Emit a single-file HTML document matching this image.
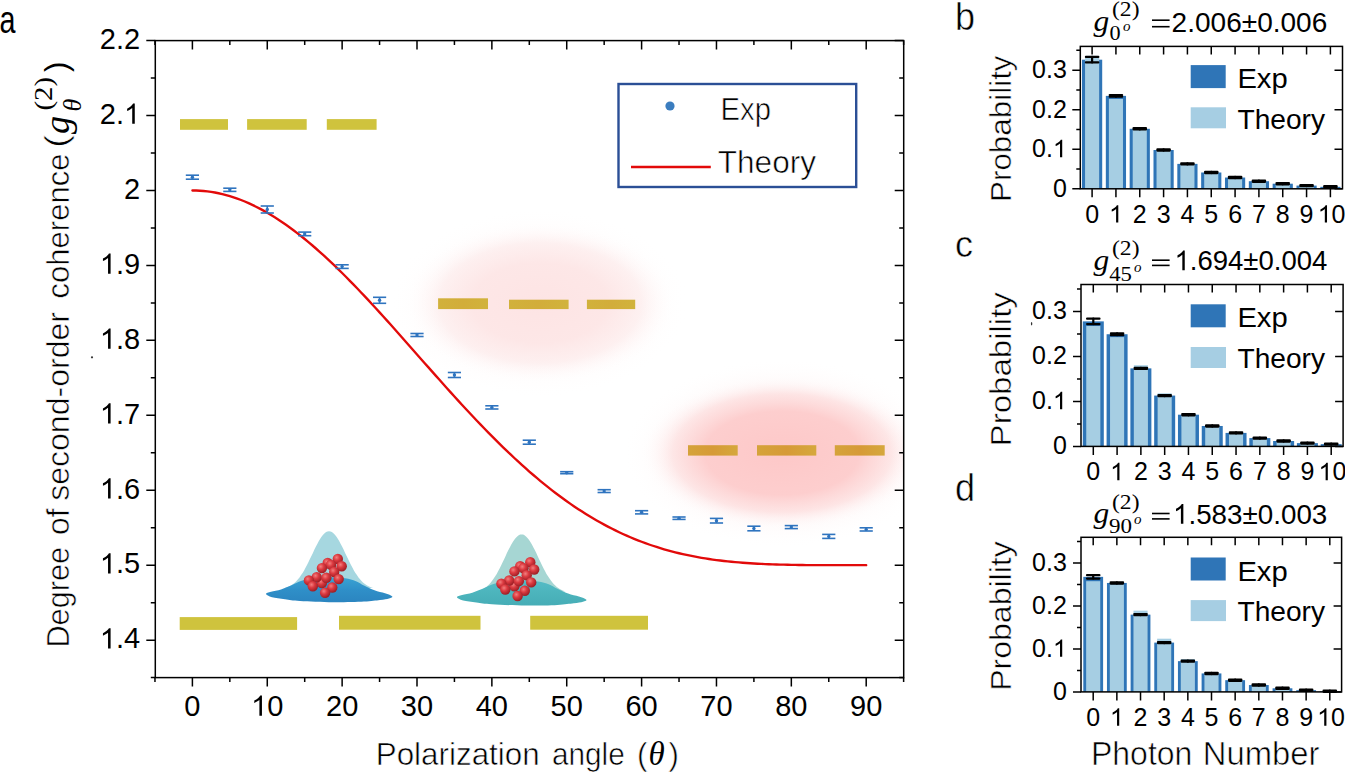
<!DOCTYPE html>
<html><head><meta charset="utf-8"><style>html,body{margin:0;padding:0;background:#fff;}svg{display:block;}</style></head><body>
<svg width="1345" height="772" viewBox="0 0 1345 772">
<defs><style>.thin{stroke:#fff;stroke-width:0.6px;stroke-linejoin:round}.thin2{stroke:#fff;stroke-width:0.5px;stroke-linejoin:round}</style>
<radialGradient id="glow1" cx="0.5" cy="0.5" r="0.5"><stop offset="0" stop-color="#fde4e4" stop-opacity="1"/><stop offset="0.5" stop-color="#fde6e6" stop-opacity="0.95"/><stop offset="0.75" stop-color="#fdeaea" stop-opacity="0.6"/><stop offset="1" stop-color="#ffffff" stop-opacity="0"/></radialGradient>
<radialGradient id="glow2" cx="0.5" cy="0.5" r="0.5"><stop offset="0" stop-color="#fdc8c8" stop-opacity="1"/><stop offset="0.55" stop-color="#fdcccc" stop-opacity="0.95"/><stop offset="0.78" stop-color="#fdd8d8" stop-opacity="0.55"/><stop offset="1" stop-color="#ffffff" stop-opacity="0"/></radialGradient>
<radialGradient id="sph" cx="0.38" cy="0.35" r="0.65"><stop offset="0" stop-color="#f27f7f"/><stop offset="0.45" stop-color="#dc3a40"/><stop offset="1" stop-color="#9e1f26"/></radialGradient>
<linearGradient id="yel2" x1="0" x2="1" y1="0" y2="0"><stop offset="0" stop-color="#d1b13b"/><stop offset="0.5" stop-color="#d2ad3a"/><stop offset="1" stop-color="#d1b33c"/></linearGradient>
<linearGradient id="yel3" x1="0" x2="1" y1="0" y2="0"><stop offset="0" stop-color="#d5a33a"/><stop offset="0.5" stop-color="#d69a37"/><stop offset="1" stop-color="#d5a83d"/></linearGradient>
<linearGradient id="base1" x1="0" x2="0" y1="0" y2="1"><stop offset="0" stop-color="#3aa3d3"/><stop offset="0.5" stop-color="#2f8fc8"/><stop offset="1" stop-color="#2b85c0"/></linearGradient>
<linearGradient id="base2" x1="0" x2="0" y1="0" y2="1"><stop offset="0" stop-color="#55bcc6"/><stop offset="0.5" stop-color="#4cb4bc"/><stop offset="1" stop-color="#46adb6"/></linearGradient>
<radialGradient id="halo" cx="0.5" cy="0.5" r="0.5"><stop offset="0" stop-color="#fdeaea" stop-opacity="1"/><stop offset="0.6" stop-color="#fdeeee" stop-opacity="0.7"/><stop offset="1" stop-color="#ffffff" stop-opacity="0"/></radialGradient>
<clipPath id="plotclip"><rect x="155.3" y="40.6" width="748.40" height="637.00"/></clipPath>
</defs>
<rect x="0" y="0" width="1345" height="772" fill="#ffffff"/>
<g clip-path="url(#plotclip)">
<ellipse cx="539" cy="303" rx="150" ry="95" fill="url(#halo)" opacity="0.6"/>
<ellipse cx="782" cy="453" rx="160" ry="95" fill="url(#halo)"/>
<ellipse cx="540" cy="303" rx="135" ry="80" fill="url(#glow1)"/>
<ellipse cx="782" cy="453" rx="140" ry="76" fill="url(#glow2)"/>
</g>
<rect x="180" y="119.1" width="48.0" height="10.7" fill="#cfc33d"/>
<rect x="247.1" y="119.1" width="59.6" height="10.7" fill="#cfc33d"/>
<rect x="326.8" y="119.1" width="49.8" height="10.7" fill="#cfc33d"/>
<rect x="438.1" y="298.3" width="49.9" height="10.8" fill="url(#yel2)"/>
<rect x="509" y="299.7" width="59.6" height="9.4" fill="url(#yel2)"/>
<rect x="586.9" y="299.7" width="48.3" height="9.4" fill="url(#yel2)"/>
<rect x="688" y="445.2" width="49.7" height="10.4" fill="url(#yel3)"/>
<rect x="757" y="445.2" width="59.3" height="10.4" fill="url(#yel3)"/>
<rect x="834.8" y="445.2" width="49.9" height="10.4" fill="url(#yel3)"/>
<rect x="179.7" y="617.1" width="117.4" height="12.8" fill="#cfc33d"/>
<rect x="339" y="615.8" width="141.5" height="13.9" fill="#cfc33d"/>
<rect x="530.2" y="615.8" width="117.8" height="13.9" fill="#cfc33d"/>
<path d="M285.0,588.1 L286.5,587.6 L287.9,587.0 L289.4,586.3 L290.9,585.5 L292.3,584.6 L293.8,583.5 L295.3,582.2 L296.7,580.7 L298.2,579.0 L299.7,577.2 L301.1,575.1 L302.6,572.9 L304.1,570.5 L305.5,567.8 L307.0,565.1 L308.5,562.1 L309.9,559.1 L311.4,556.0 L312.9,552.9 L314.3,549.8 L315.8,546.8 L317.3,543.9 L318.7,541.2 L320.2,538.7 L321.7,536.5 L323.1,534.7 L324.6,533.2 L326.1,532.1 L327.5,531.4 L329.0,531.2 L330.5,531.4 L331.9,532.1 L333.4,533.2 L334.9,534.7 L336.3,536.5 L337.8,538.7 L339.3,541.2 L340.7,543.9 L342.2,546.8 L343.7,549.8 L345.1,552.9 L346.6,556.0 L348.1,559.1 L349.5,562.1 L351.0,565.1 L352.5,567.8 L353.9,570.5 L355.4,572.9 L356.9,575.1 L358.3,577.2 L359.8,579.0 L361.3,580.7 L362.7,582.2 L364.2,583.5 L365.7,584.6 L367.1,585.5 L368.6,586.3 L370.1,587.0 L371.5,587.6 L373.0,588.1 Z" fill="#a6d7e0"/>
<path d="M266.0,594.0 C265.8,593.1 268.5,592.6 271.0,591.8 C273.5,591.0 277.7,590.4 281.0,589.4 C284.3,588.4 287.6,586.9 291.0,585.5 C294.4,584.1 297.9,582.0 301.6,580.8 C305.3,579.6 308.4,578.8 313.0,578.2 C317.6,577.6 323.7,577.3 329.0,577.3 C334.3,577.3 340.5,577.6 345.0,578.2 C349.5,578.9 352.8,580.0 356.0,581.2 C359.2,582.4 360.9,584.0 364.0,585.5 C367.1,587.0 371.0,588.9 374.5,590.2 C378.0,591.5 382.0,592.3 385.0,593.3 C388.0,594.3 391.6,595.5 392.3,596.4 C393.0,597.2 391.1,597.8 389.0,598.4 C386.9,599.0 384.2,599.5 380.0,600.0 C375.8,600.5 371.8,601.2 364.0,601.6 C356.2,602.0 343.7,602.4 333.0,602.3 C322.3,602.2 308.0,601.5 300.0,601.0 C292.0,600.5 289.7,599.8 285.0,599.2 C280.3,598.6 275.2,598.1 272.0,597.2 C268.8,596.3 266.2,594.9 266.0,594.0 Z" fill="url(#base1)"/>
<circle cx="327.7" cy="563.0" r="5.2" fill="url(#sph)"/>
<circle cx="321.9" cy="583.0" r="5.2" fill="url(#sph)"/>
<circle cx="337.8" cy="559.0" r="5.2" fill="url(#sph)"/>
<circle cx="331.0" cy="564.9" r="5.2" fill="url(#sph)"/>
<circle cx="321.9" cy="568.1" r="5.2" fill="url(#sph)"/>
<circle cx="341.7" cy="566.2" r="5.2" fill="url(#sph)"/>
<circle cx="334.2" cy="572.0" r="5.2" fill="url(#sph)"/>
<circle cx="316.7" cy="577.2" r="5.2" fill="url(#sph)"/>
<circle cx="326.4" cy="577.8" r="5.2" fill="url(#sph)"/>
<circle cx="338.7" cy="579.1" r="5.2" fill="url(#sph)"/>
<circle cx="308.9" cy="580.4" r="5.2" fill="url(#sph)"/>
<circle cx="312.8" cy="586.2" r="5.2" fill="url(#sph)"/>
<circle cx="332.3" cy="587.5" r="5.2" fill="url(#sph)"/>
<circle cx="325.1" cy="592.7" r="5.2" fill="url(#sph)"/>
<path d="M477.6,591.6 L479.1,591.1 L480.5,590.5 L482.0,589.8 L483.5,589.0 L484.9,588.0 L486.4,586.9 L487.9,585.6 L489.3,584.2 L490.8,582.5 L492.3,580.6 L493.7,578.6 L495.2,576.3 L496.7,573.9 L498.1,571.2 L499.6,568.4 L501.1,565.5 L502.5,562.5 L504.0,559.4 L505.5,556.2 L506.9,553.1 L508.4,550.1 L509.9,547.2 L511.3,544.5 L512.8,542.0 L514.3,539.8 L515.7,537.9 L517.2,536.4 L518.7,535.3 L520.1,534.6 L521.6,534.4 L523.1,534.6 L524.5,535.3 L526.0,536.4 L527.5,537.9 L528.9,539.8 L530.4,542.0 L531.9,544.5 L533.3,547.2 L534.8,550.1 L536.3,553.1 L537.7,556.2 L539.2,559.4 L540.7,562.5 L542.1,565.5 L543.6,568.4 L545.1,571.2 L546.5,573.9 L548.0,576.3 L549.5,578.6 L550.9,580.6 L552.4,582.5 L553.9,584.2 L555.3,585.6 L556.8,586.9 L558.3,588.0 L559.7,589.0 L561.2,589.8 L562.7,590.5 L564.1,591.1 L565.6,591.6 Z" fill="#a6d6d3"/>
<path d="M456.9,597.3 C456.8,596.4 459.5,595.9 462.1,595.1 C464.6,594.3 468.9,593.7 472.3,592.7 C475.7,591.6 479.0,590.2 482.6,588.8 C486.1,587.4 489.7,585.3 493.4,584.1 C497.2,582.9 500.4,582.1 505.1,581.5 C509.8,580.9 516.0,580.6 521.5,580.6 C527.0,580.6 533.3,580.9 537.9,581.5 C542.5,582.1 545.9,583.3 549.2,584.5 C552.4,585.7 554.2,587.3 557.4,588.8 C560.5,590.3 564.6,592.2 568.1,593.5 C571.7,594.8 575.9,595.6 578.9,596.6 C581.9,597.6 585.7,598.8 586.4,599.7 C587.1,600.5 585.1,601.1 583.0,601.7 C580.9,602.3 578.0,602.8 573.8,603.3 C569.5,603.8 565.4,604.5 557.4,604.9 C549.3,605.3 536.5,605.7 525.6,605.6 C514.7,605.5 500.0,604.8 491.8,604.3 C483.6,603.8 481.2,603.1 476.4,602.5 C471.6,601.9 466.3,601.4 463.1,600.5 C459.8,599.6 457.1,598.2 456.9,597.3 Z" fill="url(#base2)"/>
<circle cx="520.2" cy="566.3" r="5.2" fill="url(#sph)"/>
<circle cx="514.4" cy="586.3" r="5.2" fill="url(#sph)"/>
<circle cx="530.3" cy="562.3" r="5.2" fill="url(#sph)"/>
<circle cx="523.5" cy="568.2" r="5.2" fill="url(#sph)"/>
<circle cx="514.4" cy="571.4" r="5.2" fill="url(#sph)"/>
<circle cx="534.2" cy="569.5" r="5.2" fill="url(#sph)"/>
<circle cx="526.7" cy="575.3" r="5.2" fill="url(#sph)"/>
<circle cx="509.2" cy="580.5" r="5.2" fill="url(#sph)"/>
<circle cx="518.9" cy="581.1" r="5.2" fill="url(#sph)"/>
<circle cx="531.2" cy="582.4" r="5.2" fill="url(#sph)"/>
<circle cx="501.4" cy="583.7" r="5.2" fill="url(#sph)"/>
<circle cx="505.3" cy="589.5" r="5.2" fill="url(#sph)"/>
<circle cx="524.8" cy="590.8" r="5.2" fill="url(#sph)"/>
<circle cx="517.6" cy="596.0" r="5.2" fill="url(#sph)"/>
<polyline points="192.40,190.48 196.14,190.54 199.89,190.71 203.63,191.00 207.37,191.39 211.12,191.91 214.86,192.53 218.60,193.27 222.35,194.12 226.09,195.08 229.83,196.15 233.58,197.34 237.32,198.63 241.06,200.02 244.81,201.53 248.55,203.14 252.29,204.86 256.04,206.68 259.78,208.60 263.52,210.62 267.27,212.74 271.01,214.96 274.75,217.27 278.50,219.68 282.24,222.18 285.98,224.77 289.73,227.45 293.47,230.21 297.21,233.06 300.96,235.99 304.70,239.00 308.44,242.09 312.19,245.26 315.93,248.50 319.67,251.80 323.42,255.18 327.16,258.63 330.90,262.14 334.65,265.71 338.39,269.33 342.13,273.02 345.88,276.76 349.62,280.55 353.36,284.38 357.11,288.27 360.85,292.19 364.59,296.16 368.34,300.17 372.08,304.21 375.82,308.28 379.57,312.38 383.31,316.51 387.05,320.66 390.80,324.83 394.54,329.02 398.28,333.23 402.03,337.45 405.77,341.68 409.51,345.92 413.26,350.17 417.00,354.42 420.74,358.66 424.49,362.91 428.23,367.15 431.97,371.38 435.72,375.60 439.46,379.81 443.20,384.01 446.95,388.18 450.69,392.34 454.43,396.48 458.18,400.59 461.92,404.67 465.66,408.73 469.41,412.75 473.15,416.75 476.89,420.70 480.64,424.63 484.38,428.51 488.12,432.35 491.87,436.15 495.61,439.91 499.35,443.62 503.10,447.29 506.84,450.90 510.58,454.47 514.33,457.99 518.07,461.45 521.81,464.86 525.56,468.21 529.30,471.51 533.04,474.75 536.79,477.94 540.53,481.06 544.27,484.13 548.02,487.13 551.76,490.07 555.50,492.95 559.25,495.77 562.99,498.53 566.73,501.22 570.48,503.85 574.22,506.42 577.96,508.92 581.71,511.35 585.45,513.73 589.19,516.04 592.94,518.28 596.68,520.46 600.42,522.58 604.17,524.63 607.91,526.62 611.65,528.55 615.40,530.41 619.14,532.22 622.88,533.96 626.63,535.64 630.37,537.26 634.11,538.82 637.86,540.32 641.60,541.77 645.34,543.16 649.09,544.49 652.83,545.76 656.57,546.99 660.32,548.15 664.06,549.27 667.80,550.34 671.55,551.35 675.29,552.32 679.03,553.24 682.78,554.11 686.52,554.93 690.26,555.72 694.01,556.45 697.75,557.15 701.49,557.81 705.24,558.43 708.98,559.01 712.72,559.55 716.47,560.06 720.21,560.54 723.95,560.98 727.70,561.39 731.44,561.77 735.18,562.12 738.93,562.45 742.67,562.75 746.41,563.03 750.16,563.28 753.90,563.51 757.64,563.72 761.39,563.90 765.13,564.08 768.87,564.23 772.62,564.37 776.36,564.49 780.10,564.60 783.85,564.69 787.59,564.77 791.33,564.85 795.08,564.91 798.82,564.96 802.56,565.01 806.31,565.05 810.05,565.08 813.79,565.11 817.54,565.13 821.28,565.14 825.02,565.16 828.77,565.17 832.51,565.17 836.25,565.18 840.00,565.18 843.74,565.19 847.48,565.19 851.23,565.19 854.97,565.19 858.71,565.19 862.46,565.19 866.20,565.19" fill="none" stroke="#e20a0a" stroke-width="2.35" stroke-linecap="round"/>
<g stroke="#2f74bf" stroke-width="1.6" fill="#2f74bf"><line x1="185.80" y1="175.20" x2="199.00" y2="175.20"/><line x1="185.80" y1="179.20" x2="199.00" y2="179.20"/><line x1="192.40" y1="175.20" x2="192.40" y2="179.20"/><circle cx="192.40" cy="177.20" r="1.7" stroke="none"/></g>
<g stroke="#2f74bf" stroke-width="1.6" fill="#2f74bf"><line x1="223.23" y1="188.20" x2="236.43" y2="188.20"/><line x1="223.23" y1="191.40" x2="236.43" y2="191.40"/><line x1="229.83" y1="188.20" x2="229.83" y2="191.40"/><circle cx="229.83" cy="189.80" r="1.7" stroke="none"/></g>
<g stroke="#2f74bf" stroke-width="1.6" fill="#2f74bf"><line x1="260.67" y1="206.00" x2="273.87" y2="206.00"/><line x1="260.67" y1="213.00" x2="273.87" y2="213.00"/><line x1="267.27" y1="206.00" x2="267.27" y2="213.00"/><circle cx="267.27" cy="209.50" r="1.7" stroke="none"/></g>
<g stroke="#2f74bf" stroke-width="1.6" fill="#2f74bf"><line x1="298.10" y1="232.10" x2="311.30" y2="232.10"/><line x1="298.10" y1="235.70" x2="311.30" y2="235.70"/><line x1="304.70" y1="232.10" x2="304.70" y2="235.70"/><circle cx="304.70" cy="233.90" r="1.7" stroke="none"/></g>
<g stroke="#2f74bf" stroke-width="1.6" fill="#2f74bf"><line x1="335.53" y1="264.80" x2="348.73" y2="264.80"/><line x1="335.53" y1="268.40" x2="348.73" y2="268.40"/><line x1="342.13" y1="264.80" x2="342.13" y2="268.40"/><circle cx="342.13" cy="266.60" r="1.7" stroke="none"/></g>
<g stroke="#2f74bf" stroke-width="1.6" fill="#2f74bf"><line x1="372.97" y1="297.30" x2="386.17" y2="297.30"/><line x1="372.97" y1="303.30" x2="386.17" y2="303.30"/><line x1="379.57" y1="297.30" x2="379.57" y2="303.30"/><circle cx="379.57" cy="300.30" r="1.7" stroke="none"/></g>
<g stroke="#2f74bf" stroke-width="1.6" fill="#2f74bf"><line x1="410.40" y1="333.50" x2="423.60" y2="333.50"/><line x1="410.40" y1="336.50" x2="423.60" y2="336.50"/><line x1="417.00" y1="333.50" x2="417.00" y2="336.50"/><circle cx="417.00" cy="335.00" r="1.7" stroke="none"/></g>
<g stroke="#2f74bf" stroke-width="1.6" fill="#2f74bf"><line x1="447.83" y1="372.50" x2="461.03" y2="372.50"/><line x1="447.83" y1="377.50" x2="461.03" y2="377.50"/><line x1="454.43" y1="372.50" x2="454.43" y2="377.50"/><circle cx="454.43" cy="375.00" r="1.7" stroke="none"/></g>
<g stroke="#2f74bf" stroke-width="1.6" fill="#2f74bf"><line x1="485.27" y1="405.80" x2="498.47" y2="405.80"/><line x1="485.27" y1="409.00" x2="498.47" y2="409.00"/><line x1="491.87" y1="405.80" x2="491.87" y2="409.00"/><circle cx="491.87" cy="407.40" r="1.7" stroke="none"/></g>
<g stroke="#2f74bf" stroke-width="1.6" fill="#2f74bf"><line x1="522.70" y1="440.20" x2="535.90" y2="440.20"/><line x1="522.70" y1="444.20" x2="535.90" y2="444.20"/><line x1="529.30" y1="440.20" x2="529.30" y2="444.20"/><circle cx="529.30" cy="442.20" r="1.7" stroke="none"/></g>
<g stroke="#2f74bf" stroke-width="1.6" fill="#2f74bf"><line x1="560.13" y1="471.70" x2="573.33" y2="471.70"/><line x1="560.13" y1="473.70" x2="573.33" y2="473.70"/><line x1="566.73" y1="471.70" x2="566.73" y2="473.70"/><circle cx="566.73" cy="472.70" r="1.7" stroke="none"/></g>
<g stroke="#2f74bf" stroke-width="1.6" fill="#2f74bf"><line x1="597.57" y1="489.70" x2="610.77" y2="489.70"/><line x1="597.57" y1="492.50" x2="610.77" y2="492.50"/><line x1="604.17" y1="489.70" x2="604.17" y2="492.50"/><circle cx="604.17" cy="491.10" r="1.7" stroke="none"/></g>
<g stroke="#2f74bf" stroke-width="1.6" fill="#2f74bf"><line x1="635.00" y1="510.70" x2="648.20" y2="510.70"/><line x1="635.00" y1="513.90" x2="648.20" y2="513.90"/><line x1="641.60" y1="510.70" x2="641.60" y2="513.90"/><circle cx="641.60" cy="512.30" r="1.7" stroke="none"/></g>
<g stroke="#2f74bf" stroke-width="1.6" fill="#2f74bf"><line x1="672.43" y1="517.00" x2="685.63" y2="517.00"/><line x1="672.43" y1="519.40" x2="685.63" y2="519.40"/><line x1="679.03" y1="517.00" x2="679.03" y2="519.40"/><circle cx="679.03" cy="518.20" r="1.7" stroke="none"/></g>
<g stroke="#2f74bf" stroke-width="1.6" fill="#2f74bf"><line x1="709.87" y1="518.40" x2="723.07" y2="518.40"/><line x1="709.87" y1="523.00" x2="723.07" y2="523.00"/><line x1="716.47" y1="518.40" x2="716.47" y2="523.00"/><circle cx="716.47" cy="520.70" r="1.7" stroke="none"/></g>
<g stroke="#2f74bf" stroke-width="1.6" fill="#2f74bf"><line x1="747.30" y1="526.20" x2="760.50" y2="526.20"/><line x1="747.30" y1="530.80" x2="760.50" y2="530.80"/><line x1="753.90" y1="526.20" x2="753.90" y2="530.80"/><circle cx="753.90" cy="528.50" r="1.7" stroke="none"/></g>
<g stroke="#2f74bf" stroke-width="1.6" fill="#2f74bf"><line x1="784.73" y1="525.60" x2="797.93" y2="525.60"/><line x1="784.73" y1="528.60" x2="797.93" y2="528.60"/><line x1="791.33" y1="525.60" x2="791.33" y2="528.60"/><circle cx="791.33" cy="527.10" r="1.7" stroke="none"/></g>
<g stroke="#2f74bf" stroke-width="1.6" fill="#2f74bf"><line x1="822.17" y1="534.40" x2="835.37" y2="534.40"/><line x1="822.17" y1="538.40" x2="835.37" y2="538.40"/><line x1="828.77" y1="534.40" x2="828.77" y2="538.40"/><circle cx="828.77" cy="536.40" r="1.7" stroke="none"/></g>
<g stroke="#2f74bf" stroke-width="1.6" fill="#2f74bf"><line x1="859.60" y1="527.80" x2="872.80" y2="527.80"/><line x1="859.60" y1="531.00" x2="872.80" y2="531.00"/><line x1="866.20" y1="527.80" x2="866.20" y2="531.00"/><circle cx="866.20" cy="529.40" r="1.7" stroke="none"/></g>
<rect x="155.3" y="40.6" width="748.40" height="637.00" stroke="#000" stroke-width="1.5" fill="none"/>
<path d="M146.30,40.60H155.30M894.70,40.60H903.70M150.80,78.07H155.30M899.20,78.07H903.70M146.30,115.54H155.30M894.70,115.54H903.70M150.80,153.01H155.30M899.20,153.01H903.70M146.30,190.48H155.30M894.70,190.48H903.70M150.80,227.95H155.30M899.20,227.95H903.70M146.30,265.42H155.30M894.70,265.42H903.70M150.80,302.89H155.30M899.20,302.89H903.70M146.30,340.36H155.30M894.70,340.36H903.70M150.80,377.84H155.30M899.20,377.84H903.70M146.30,415.31H155.30M894.70,415.31H903.70M150.80,452.78H155.30M899.20,452.78H903.70M146.30,490.25H155.30M894.70,490.25H903.70M150.80,527.72H155.30M899.20,527.72H903.70M146.30,565.19H155.30M894.70,565.19H903.70M150.80,602.66H155.30M899.20,602.66H903.70M146.30,640.13H155.30M894.70,640.13H903.70M150.80,677.60H155.30M899.20,677.60H903.70M154.97,677.60V682.10M154.97,40.60V45.10M192.40,677.60V686.60M192.40,40.60V49.60M229.83,677.60V682.10M229.83,40.60V45.10M267.27,677.60V686.60M267.27,40.60V49.60M304.70,677.60V682.10M304.70,40.60V45.10M342.13,677.60V686.60M342.13,40.60V49.60M379.57,677.60V682.10M379.57,40.60V45.10M417.00,677.60V686.60M417.00,40.60V49.60M454.43,677.60V682.10M454.43,40.60V45.10M491.87,677.60V686.60M491.87,40.60V49.60M529.30,677.60V682.10M529.30,40.60V45.10M566.73,677.60V686.60M566.73,40.60V49.60M604.17,677.60V682.10M604.17,40.60V45.10M641.60,677.60V686.60M641.60,40.60V49.60M679.03,677.60V682.10M679.03,40.60V45.10M716.47,677.60V686.60M716.47,40.60V49.60M753.90,677.60V682.10M753.90,40.60V45.10M791.33,677.60V686.60M791.33,40.60V49.60M828.77,677.60V682.10M828.77,40.60V45.10M866.20,677.60V686.60M866.20,40.60V49.60M903.63,677.60V682.10M903.63,40.60V45.10" stroke="#000" stroke-width="1.5" fill="none"/>
<text x="99.79" y="48.90" font-size="29" text-anchor="start" font-family='"Liberation Sans", sans-serif' >2.2</text>
<text x="99.79" y="123.84" font-size="29" text-anchor="start" font-family='"Liberation Sans", sans-serif' >2. </text>
<path d="M763 0H583V1147Q518 1085 412.5 1023Q307 961 223 930V1104Q374 1175 487 1276Q600 1377 647 1472H763Z" transform="translate(123.97,123.84) scale(0.01416,-0.01376)" fill="#000"/>
<text x="123.97" y="198.78" font-size="29" text-anchor="start" font-family='"Liberation Sans", sans-serif' >2</text>
<text x="99.79" y="273.72" font-size="29" text-anchor="start" font-family='"Liberation Sans", sans-serif' > .9</text>
<path d="M763 0H583V1147Q518 1085 412.5 1023Q307 961 223 930V1104Q374 1175 487 1276Q600 1377 647 1472H763Z" transform="translate(99.79,273.72) scale(0.01416,-0.01376)" fill="#000"/>
<text x="99.79" y="348.66" font-size="29" text-anchor="start" font-family='"Liberation Sans", sans-serif' > .8</text>
<path d="M763 0H583V1147Q518 1085 412.5 1023Q307 961 223 930V1104Q374 1175 487 1276Q600 1377 647 1472H763Z" transform="translate(99.79,348.66) scale(0.01416,-0.01376)" fill="#000"/>
<text x="99.79" y="423.61" font-size="29" text-anchor="start" font-family='"Liberation Sans", sans-serif' > .7</text>
<path d="M763 0H583V1147Q518 1085 412.5 1023Q307 961 223 930V1104Q374 1175 487 1276Q600 1377 647 1472H763Z" transform="translate(99.79,423.61) scale(0.01416,-0.01376)" fill="#000"/>
<text x="99.79" y="498.55" font-size="29" text-anchor="start" font-family='"Liberation Sans", sans-serif' > .6</text>
<path d="M763 0H583V1147Q518 1085 412.5 1023Q307 961 223 930V1104Q374 1175 487 1276Q600 1377 647 1472H763Z" transform="translate(99.79,498.55) scale(0.01416,-0.01376)" fill="#000"/>
<text x="99.79" y="573.49" font-size="29" text-anchor="start" font-family='"Liberation Sans", sans-serif' > .5</text>
<path d="M763 0H583V1147Q518 1085 412.5 1023Q307 961 223 930V1104Q374 1175 487 1276Q600 1377 647 1472H763Z" transform="translate(99.79,573.49) scale(0.01416,-0.01376)" fill="#000"/>
<text x="99.79" y="648.43" font-size="29" text-anchor="start" font-family='"Liberation Sans", sans-serif' > .4</text>
<path d="M763 0H583V1147Q518 1085 412.5 1023Q307 961 223 930V1104Q374 1175 487 1276Q600 1377 647 1472H763Z" transform="translate(99.79,648.43) scale(0.01416,-0.01376)" fill="#000"/>
<text x="184.34" y="715.70" font-size="29" text-anchor="start" font-family='"Liberation Sans", sans-serif' >0</text>
<text x="251.14" y="715.70" font-size="29" text-anchor="start" font-family='"Liberation Sans", sans-serif' > 0</text>
<path d="M763 0H583V1147Q518 1085 412.5 1023Q307 961 223 930V1104Q374 1175 487 1276Q600 1377 647 1472H763Z" transform="translate(251.14,715.70) scale(0.01416,-0.01376)" fill="#000"/>
<text x="326.00" y="715.70" font-size="29" text-anchor="start" font-family='"Liberation Sans", sans-serif' >20</text>
<text x="400.87" y="715.70" font-size="29" text-anchor="start" font-family='"Liberation Sans", sans-serif' >30</text>
<text x="475.74" y="715.70" font-size="29" text-anchor="start" font-family='"Liberation Sans", sans-serif' >40</text>
<text x="550.60" y="715.70" font-size="29" text-anchor="start" font-family='"Liberation Sans", sans-serif' >50</text>
<text x="625.47" y="715.70" font-size="29" text-anchor="start" font-family='"Liberation Sans", sans-serif' >60</text>
<text x="700.34" y="715.70" font-size="29" text-anchor="start" font-family='"Liberation Sans", sans-serif' >70</text>
<text x="775.20" y="715.70" font-size="29" text-anchor="start" font-family='"Liberation Sans", sans-serif' >80</text>
<text x="850.07" y="715.70" font-size="29" text-anchor="start" font-family='"Liberation Sans", sans-serif' >90</text>
<g transform="rotate(-90)">
<text class="thin" x="-647.62" y="68.50" font-size="31" font-family='"Liberation Sans", sans-serif' textLength="100.68" lengthAdjust="spacingAndGlyphs" >Degree</text>
<text class="thin" x="-535.35" y="68.50" font-size="31" font-family='"Liberation Sans", sans-serif' textLength="26.91" lengthAdjust="spacingAndGlyphs" >of</text>
<text class="thin" x="-500.89" y="68.50" font-size="31" font-family='"Liberation Sans", sans-serif' textLength="188.82" lengthAdjust="spacingAndGlyphs" >second-order</text>
<text class="thin" x="-298.42" y="68.50" font-size="31" font-family='"Liberation Sans", sans-serif' textLength="144.79" lengthAdjust="spacingAndGlyphs" >coherence</text>
<text class="thin" x="-148.03" y="66.80" font-size="31" font-family='"Liberation Sans", sans-serif' textLength="13.06" lengthAdjust="spacingAndGlyphs" >(</text>
</g>
<g transform="rotate(-90)"><text x="-134" y="68.5" font-size="36" font-family='"Liberation Serif", serif' font-style="italic">g</text><text x="-111.5" y="80.8" font-size="26" font-family='"Liberation Serif", serif' font-style="italic">θ</text><text x="-110.5" y="51.5" font-size="26" font-family='"Liberation Serif", serif' textLength="33.5" lengthAdjust="spacingAndGlyphs">(2)</text><text x="-72" y="66.8" font-size="31" font-family='"Liberation Sans", sans-serif'>)</text></g>
<text class="thin" x="375.73" y="764.70" font-size="31.5" font-family='"Liberation Sans", sans-serif' textLength="164.01" lengthAdjust="spacingAndGlyphs" >Polarization</text>
<text class="thin" x="551.94" y="764.70" font-size="31.5" font-family='"Liberation Sans", sans-serif' textLength="72.79" lengthAdjust="spacingAndGlyphs" >angle</text>
<text class="thin" x="636.96" y="764.70" font-size="31.5" font-family='"Liberation Sans", sans-serif' textLength="10.42" lengthAdjust="spacingAndGlyphs" >(</text>
<text class="thin" x="668.42" y="764.70" font-size="31.5" font-family='"Liberation Sans", sans-serif' textLength="10.42" lengthAdjust="spacingAndGlyphs" >)</text>
<text x="648.5" y="764.7" font-size="33" font-family='"Liberation Serif", serif' font-style="italic">θ</text>
<text x="-0.50" y="33.00" font-size="38" text-anchor="start" font-family='"Liberation Sans", sans-serif' textLength="16.00" lengthAdjust="spacingAndGlyphs" >a</text>
<rect x="618.5" y="84" width="237.7" height="103" fill="#fff" stroke="#2b4f96" stroke-width="2.4"/>
<circle cx="670" cy="106" r="4.6" fill="#3b7dbf"/>
<line x1="631" y1="167" x2="710.8" y2="167" stroke="#e20a0a" stroke-width="2.7"/>
<text class="thin" x="720.60" y="119.80" font-size="31" font-family='"Liberation Sans", sans-serif' textLength="50.32" lengthAdjust="spacingAndGlyphs" >Exp</text>
<text class="thin" x="717.79" y="173.40" font-size="31.5" font-family='"Liberation Sans", sans-serif' textLength="98.17" lengthAdjust="spacingAndGlyphs" >Theory</text>
<rect x="1082.00" y="59.69" width="20.2" height="129.11" fill="#2f75b7"/>
<rect x="1085.05" y="55.89" width="14.1" height="132.91" fill="#a6cee3"/>
<rect x="1105.83" y="95.88" width="20.2" height="92.92" fill="#2f75b7"/>
<rect x="1108.88" y="99.01" width="14.1" height="89.79" fill="#a6cee3"/>
<rect x="1129.66" y="128.79" width="20.2" height="60.01" fill="#2f75b7"/>
<rect x="1132.71" y="129.07" width="14.1" height="59.73" fill="#a6cee3"/>
<rect x="1153.49" y="150.00" width="20.2" height="38.80" fill="#2f75b7"/>
<rect x="1156.54" y="150.04" width="14.1" height="38.76" fill="#a6cee3"/>
<rect x="1177.32" y="163.88" width="20.2" height="24.92" fill="#2f75b7"/>
<rect x="1180.37" y="163.88" width="14.1" height="24.92" fill="#a6cee3"/>
<rect x="1201.15" y="172.50" width="20.2" height="16.30" fill="#2f75b7"/>
<rect x="1204.20" y="172.58" width="14.1" height="16.22" fill="#a6cee3"/>
<rect x="1224.98" y="177.53" width="20.2" height="11.27" fill="#2f75b7"/>
<rect x="1228.03" y="177.72" width="14.1" height="11.08" fill="#a6cee3"/>
<rect x="1248.81" y="181.21" width="20.2" height="7.59" fill="#2f75b7"/>
<rect x="1251.86" y="181.28" width="14.1" height="7.52" fill="#a6cee3"/>
<rect x="1272.64" y="183.70" width="20.2" height="5.10" fill="#2f75b7"/>
<rect x="1275.69" y="183.86" width="14.1" height="4.94" fill="#a6cee3"/>
<rect x="1296.47" y="185.60" width="20.2" height="3.20" fill="#2f75b7"/>
<rect x="1299.52" y="185.64" width="14.1" height="3.16" fill="#a6cee3"/>
<rect x="1320.30" y="186.82" width="20.2" height="1.98" fill="#2f75b7"/>
<rect x="1323.35" y="186.82" width="14.1" height="1.98" fill="#a6cee3"/>
<g stroke="#000" stroke-width="2.2" stroke-linecap="round"><line x1="1085.90" y1="56.92" x2="1098.30" y2="56.92"/><line x1="1085.90" y1="62.46" x2="1098.30" y2="62.46"/><line x1="1092.10" y1="56.92" x2="1092.10" y2="62.46"/></g>
<g stroke="#000" stroke-width="2.2" stroke-linecap="round"><line x1="1109.73" y1="95.09" x2="1122.13" y2="95.09"/><line x1="1109.73" y1="96.68" x2="1122.13" y2="96.68"/><line x1="1115.93" y1="95.09" x2="1115.93" y2="96.68"/></g>
<g stroke="#000" stroke-width="2.2" stroke-linecap="round"><line x1="1133.56" y1="128.19" x2="1145.96" y2="128.19"/><line x1="1133.56" y1="129.39" x2="1145.96" y2="129.39"/><line x1="1139.76" y1="128.19" x2="1139.76" y2="129.39"/></g>
<g stroke="#000" stroke-width="2.2" stroke-linecap="round"><line x1="1157.39" y1="149.40" x2="1169.79" y2="149.40"/><line x1="1157.39" y1="150.60" x2="1169.79" y2="150.60"/><line x1="1163.59" y1="149.40" x2="1163.59" y2="150.60"/></g>
<g stroke="#000" stroke-width="2.2" stroke-linecap="round"><line x1="1181.22" y1="163.28" x2="1193.62" y2="163.28"/><line x1="1181.22" y1="164.48" x2="1193.62" y2="164.48"/><line x1="1187.42" y1="163.28" x2="1187.42" y2="164.48"/></g>
<g stroke="#000" stroke-width="2.2" stroke-linecap="round"><line x1="1205.05" y1="171.90" x2="1217.45" y2="171.90"/><line x1="1205.05" y1="173.10" x2="1217.45" y2="173.10"/><line x1="1211.25" y1="171.90" x2="1211.25" y2="173.10"/></g>
<g stroke="#000" stroke-width="2.2" stroke-linecap="round"><line x1="1228.88" y1="176.93" x2="1241.28" y2="176.93"/><line x1="1228.88" y1="178.13" x2="1241.28" y2="178.13"/><line x1="1235.08" y1="176.93" x2="1235.08" y2="178.13"/></g>
<g stroke="#000" stroke-width="2.2" stroke-linecap="round"><line x1="1252.71" y1="180.61" x2="1265.11" y2="180.61"/><line x1="1252.71" y1="181.81" x2="1265.11" y2="181.81"/><line x1="1258.91" y1="180.61" x2="1258.91" y2="181.81"/></g>
<g stroke="#000" stroke-width="2.2" stroke-linecap="round"><line x1="1276.54" y1="183.10" x2="1288.94" y2="183.10"/><line x1="1276.54" y1="184.30" x2="1288.94" y2="184.30"/><line x1="1282.74" y1="183.10" x2="1282.74" y2="184.30"/></g>
<g stroke="#000" stroke-width="2.2" stroke-linecap="round"><line x1="1300.37" y1="185.00" x2="1312.77" y2="185.00"/><line x1="1300.37" y1="186.20" x2="1312.77" y2="186.20"/><line x1="1306.57" y1="185.00" x2="1306.57" y2="186.20"/></g>
<g stroke="#000" stroke-width="2.2" stroke-linecap="round"><line x1="1324.20" y1="186.22" x2="1336.60" y2="186.22"/><line x1="1324.20" y1="187.42" x2="1336.60" y2="187.42"/><line x1="1330.40" y1="186.22" x2="1330.40" y2="187.42"/></g>
<rect x="1080.3" y="46.4" width="262.20" height="142.40" stroke="#000" stroke-width="1.5" fill="none"/>
<path d="M1072.30,188.80H1080.30M1334.50,188.80H1342.50M1076.30,169.02H1080.30M1072.30,149.24H1080.30M1334.50,149.24H1342.50M1076.30,129.47H1080.30M1072.30,109.69H1080.30M1334.50,109.69H1342.50M1076.30,89.91H1080.30M1072.30,70.13H1080.30M1334.50,70.13H1342.50M1076.30,50.36H1080.30M1092.10,188.80V197.30M1092.10,46.40V54.40M1115.93,188.80V197.30M1115.93,46.40V54.40M1139.76,188.80V197.30M1139.76,46.40V54.40M1163.59,188.80V197.30M1163.59,46.40V54.40M1187.42,188.80V197.30M1187.42,46.40V54.40M1211.25,188.80V197.30M1211.25,46.40V54.40M1235.08,188.80V197.30M1235.08,46.40V54.40M1258.91,188.80V197.30M1258.91,46.40V54.40M1282.74,188.80V197.30M1282.74,46.40V54.40M1306.57,188.80V197.30M1306.57,46.40V54.40M1330.40,188.80V197.30M1330.40,46.40V54.40" stroke="#000" stroke-width="1.5" fill="none"/>
<text x="1052.90" y="196.70" font-size="25" text-anchor="start" font-family='"Liberation Sans", sans-serif' >0</text>
<text x="1032.05" y="157.14" font-size="25" text-anchor="start" font-family='"Liberation Sans", sans-serif' >0. </text>
<path d="M763 0H583V1147Q518 1085 412.5 1023Q307 961 223 930V1104Q374 1175 487 1276Q600 1377 647 1472H763Z" transform="translate(1052.90,157.14) scale(0.01221,-0.01186)" fill="#000"/>
<text x="1032.05" y="117.59" font-size="25" text-anchor="start" font-family='"Liberation Sans", sans-serif' >0.2</text>
<text x="1032.05" y="78.03" font-size="25" text-anchor="start" font-family='"Liberation Sans", sans-serif' >0.3</text>
<text x="1085.15" y="222.60" font-size="25" text-anchor="start" font-family='"Liberation Sans", sans-serif' >0</text>
<path d="M763 0H583V1147Q518 1085 412.5 1023Q307 961 223 930V1104Q374 1175 487 1276Q600 1377 647 1472H763Z" transform="translate(1108.98,222.60) scale(0.01221,-0.01186)" fill="#000"/>
<text x="1132.81" y="222.60" font-size="25" text-anchor="start" font-family='"Liberation Sans", sans-serif' >2</text>
<text x="1156.64" y="222.60" font-size="25" text-anchor="start" font-family='"Liberation Sans", sans-serif' >3</text>
<text x="1180.47" y="222.60" font-size="25" text-anchor="start" font-family='"Liberation Sans", sans-serif' >4</text>
<text x="1204.30" y="222.60" font-size="25" text-anchor="start" font-family='"Liberation Sans", sans-serif' >5</text>
<text x="1228.13" y="222.60" font-size="25" text-anchor="start" font-family='"Liberation Sans", sans-serif' >6</text>
<text x="1251.96" y="222.60" font-size="25" text-anchor="start" font-family='"Liberation Sans", sans-serif' >7</text>
<text x="1275.79" y="222.60" font-size="25" text-anchor="start" font-family='"Liberation Sans", sans-serif' >8</text>
<text x="1299.62" y="222.60" font-size="25" text-anchor="start" font-family='"Liberation Sans", sans-serif' >9</text>
<text x="1317.70" y="222.60" font-size="25" text-anchor="start" font-family='"Liberation Sans", sans-serif' > 0</text>
<path d="M763 0H583V1147Q518 1085 412.5 1023Q307 961 223 930V1104Q374 1175 487 1276Q600 1377 647 1472H763Z" transform="translate(1317.70,222.60) scale(0.01221,-0.01186)" fill="#000"/>
<g transform="rotate(-90)">
<text class="thin2" x="-201.97" y="1010.50" font-size="29" font-family='"Liberation Sans", sans-serif' textLength="146.54" lengthAdjust="spacingAndGlyphs" >Probability</text>
</g>
<rect x="1190.7" y="65.10" width="35" height="23" fill="#2f75b7"/>
<text class="n" x="1237.40" y="88.20" font-size="28" font-family='"Liberation Sans", sans-serif' textLength="50.32" lengthAdjust="spacingAndGlyphs" >Exp</text>
<rect x="1190.7" y="107.30" width="35.3" height="21" fill="#a6cee3"/>
<text class="n" x="1237.47" y="128.50" font-size="28" font-family='"Liberation Sans", sans-serif' textLength="87.59" lengthAdjust="spacingAndGlyphs" >Theory</text>
<g transform="translate(955,29.6) scale(1,1.07)">
<text x="0.00" y="0.00" font-size="36" text-anchor="start" font-family='"Liberation Sans", sans-serif' class="thin2">b</text>
</g>
<text class="n" x="1093.58" y="31.10" font-size="29" font-family='"Liberation Serif", serif' textLength="15.74" lengthAdjust="spacingAndGlyphs" font-style="italic">g</text>
<text x="1112.00" y="16.30" font-size="22" text-anchor="start" font-family='"Liberation Serif", serif' textLength="27.50" lengthAdjust="spacingAndGlyphs" >(2)</text>
<text class="n" x="1109.46" y="40.40" font-size="21" font-family='"Liberation Serif", serif' textLength="11.09" lengthAdjust="spacingAndGlyphs" >0</text>
<text x="1123.00" y="31.10" font-size="15" text-anchor="start" font-family='"Liberation Serif", serif' style="font-style:italic" >o</text>
<rect x="1152" y="19.40" width="17.6" height="1.6" fill="#000"/>
<rect x="1152" y="25.90" width="17.6" height="1.6" fill="#000"/>
<text x="1171.60" y="31.60" font-size="28.5" text-anchor="start" font-family='"Liberation Sans", sans-serif' textLength="155.70" lengthAdjust="spacingAndGlyphs" >2.006±0.006</text>
<rect x="1082.80" y="321.38" width="21.0" height="125.02" fill="#2f75b7"/>
<rect x="1086.25" y="326.01" width="14.1" height="120.39" fill="#a6cee3"/>
<rect x="1106.59" y="334.24" width="21.0" height="112.16" fill="#2f75b7"/>
<rect x="1110.04" y="337.12" width="14.1" height="109.28" fill="#a6cee3"/>
<rect x="1130.38" y="368.37" width="21.0" height="78.03" fill="#2f75b7"/>
<rect x="1133.83" y="365.27" width="14.1" height="81.13" fill="#a6cee3"/>
<rect x="1154.17" y="395.58" width="21.0" height="50.82" fill="#2f75b7"/>
<rect x="1157.62" y="393.33" width="14.1" height="53.07" fill="#a6cee3"/>
<rect x="1177.96" y="414.69" width="21.0" height="31.71" fill="#2f75b7"/>
<rect x="1181.41" y="414.47" width="14.1" height="31.93" fill="#a6cee3"/>
<rect x="1201.75" y="425.98" width="21.0" height="20.42" fill="#2f75b7"/>
<rect x="1205.20" y="426.16" width="14.1" height="20.24" fill="#a6cee3"/>
<rect x="1225.54" y="432.91" width="21.0" height="13.49" fill="#2f75b7"/>
<rect x="1228.99" y="432.91" width="14.1" height="13.49" fill="#a6cee3"/>
<rect x="1249.33" y="438.08" width="21.0" height="8.32" fill="#2f75b7"/>
<rect x="1252.78" y="438.08" width="14.1" height="8.32" fill="#a6cee3"/>
<rect x="1273.12" y="441.00" width="21.0" height="5.40" fill="#2f75b7"/>
<rect x="1276.57" y="441.00" width="14.1" height="5.40" fill="#a6cee3"/>
<rect x="1296.91" y="443.12" width="21.0" height="3.28" fill="#2f75b7"/>
<rect x="1300.36" y="443.12" width="14.1" height="3.28" fill="#a6cee3"/>
<rect x="1320.70" y="444.15" width="21.0" height="2.25" fill="#2f75b7"/>
<rect x="1324.15" y="444.38" width="14.1" height="2.02" fill="#a6cee3"/>
<g stroke="#000" stroke-width="2.2" stroke-linecap="round"><line x1="1087.10" y1="318.68" x2="1099.50" y2="318.68"/><line x1="1087.10" y1="324.08" x2="1099.50" y2="324.08"/><line x1="1093.30" y1="318.68" x2="1093.30" y2="324.08"/></g>
<g stroke="#000" stroke-width="2.2" stroke-linecap="round"><line x1="1110.89" y1="333.34" x2="1123.29" y2="333.34"/><line x1="1110.89" y1="335.14" x2="1123.29" y2="335.14"/><line x1="1117.09" y1="333.34" x2="1117.09" y2="335.14"/></g>
<g stroke="#000" stroke-width="2.2" stroke-linecap="round"><line x1="1134.68" y1="367.77" x2="1147.08" y2="367.77"/><line x1="1134.68" y1="368.97" x2="1147.08" y2="368.97"/><line x1="1140.88" y1="367.77" x2="1140.88" y2="368.97"/></g>
<g stroke="#000" stroke-width="2.2" stroke-linecap="round"><line x1="1158.47" y1="394.98" x2="1170.87" y2="394.98"/><line x1="1158.47" y1="396.18" x2="1170.87" y2="396.18"/><line x1="1164.67" y1="394.98" x2="1164.67" y2="396.18"/></g>
<g stroke="#000" stroke-width="2.2" stroke-linecap="round"><line x1="1182.26" y1="414.09" x2="1194.66" y2="414.09"/><line x1="1182.26" y1="415.29" x2="1194.66" y2="415.29"/><line x1="1188.46" y1="414.09" x2="1188.46" y2="415.29"/></g>
<g stroke="#000" stroke-width="2.2" stroke-linecap="round"><line x1="1206.05" y1="425.38" x2="1218.45" y2="425.38"/><line x1="1206.05" y1="426.58" x2="1218.45" y2="426.58"/><line x1="1212.25" y1="425.38" x2="1212.25" y2="426.58"/></g>
<g stroke="#000" stroke-width="2.2" stroke-linecap="round"><line x1="1229.84" y1="432.31" x2="1242.24" y2="432.31"/><line x1="1229.84" y1="433.51" x2="1242.24" y2="433.51"/><line x1="1236.04" y1="432.31" x2="1236.04" y2="433.51"/></g>
<g stroke="#000" stroke-width="2.2" stroke-linecap="round"><line x1="1253.63" y1="437.48" x2="1266.03" y2="437.48"/><line x1="1253.63" y1="438.68" x2="1266.03" y2="438.68"/><line x1="1259.83" y1="437.48" x2="1259.83" y2="438.68"/></g>
<g stroke="#000" stroke-width="2.2" stroke-linecap="round"><line x1="1277.42" y1="440.40" x2="1289.82" y2="440.40"/><line x1="1277.42" y1="441.60" x2="1289.82" y2="441.60"/><line x1="1283.62" y1="440.40" x2="1283.62" y2="441.60"/></g>
<g stroke="#000" stroke-width="2.2" stroke-linecap="round"><line x1="1301.21" y1="442.52" x2="1313.61" y2="442.52"/><line x1="1301.21" y1="443.72" x2="1313.61" y2="443.72"/><line x1="1307.41" y1="442.52" x2="1307.41" y2="443.72"/></g>
<g stroke="#000" stroke-width="2.2" stroke-linecap="round"><line x1="1325.00" y1="443.55" x2="1337.40" y2="443.55"/><line x1="1325.00" y1="444.75" x2="1337.40" y2="444.75"/><line x1="1331.20" y1="443.55" x2="1331.20" y2="444.75"/></g>
<rect x="1081.0" y="284.5" width="262.10" height="161.90" stroke="#000" stroke-width="1.5" fill="none"/>
<path d="M1073.00,446.40H1081.00M1335.10,446.40H1343.10M1077.00,423.91H1081.00M1073.00,401.43H1081.00M1335.10,401.43H1343.10M1077.00,378.94H1081.00M1073.00,356.46H1081.00M1335.10,356.46H1343.10M1077.00,333.97H1081.00M1073.00,311.48H1081.00M1335.10,311.48H1343.10M1077.00,289.00H1081.00M1093.30,446.40V454.90M1093.30,284.50V292.50M1117.09,446.40V454.90M1117.09,284.50V292.50M1140.88,446.40V454.90M1140.88,284.50V292.50M1164.67,446.40V454.90M1164.67,284.50V292.50M1188.46,446.40V454.90M1188.46,284.50V292.50M1212.25,446.40V454.90M1212.25,284.50V292.50M1236.04,446.40V454.90M1236.04,284.50V292.50M1259.83,446.40V454.90M1259.83,284.50V292.50M1283.62,446.40V454.90M1283.62,284.50V292.50M1307.41,446.40V454.90M1307.41,284.50V292.50M1331.20,446.40V454.90M1331.20,284.50V292.50" stroke="#000" stroke-width="1.5" fill="none"/>
<text x="1052.90" y="454.30" font-size="25" text-anchor="start" font-family='"Liberation Sans", sans-serif' >0</text>
<text x="1032.05" y="409.33" font-size="25" text-anchor="start" font-family='"Liberation Sans", sans-serif' >0. </text>
<path d="M763 0H583V1147Q518 1085 412.5 1023Q307 961 223 930V1104Q374 1175 487 1276Q600 1377 647 1472H763Z" transform="translate(1052.90,409.33) scale(0.01221,-0.01186)" fill="#000"/>
<text x="1032.05" y="364.36" font-size="25" text-anchor="start" font-family='"Liberation Sans", sans-serif' >0.2</text>
<text x="1032.05" y="319.38" font-size="25" text-anchor="start" font-family='"Liberation Sans", sans-serif' >0.3</text>
<text x="1086.35" y="480.20" font-size="25" text-anchor="start" font-family='"Liberation Sans", sans-serif' >0</text>
<path d="M763 0H583V1147Q518 1085 412.5 1023Q307 961 223 930V1104Q374 1175 487 1276Q600 1377 647 1472H763Z" transform="translate(1110.14,480.20) scale(0.01221,-0.01186)" fill="#000"/>
<text x="1133.93" y="480.20" font-size="25" text-anchor="start" font-family='"Liberation Sans", sans-serif' >2</text>
<text x="1157.72" y="480.20" font-size="25" text-anchor="start" font-family='"Liberation Sans", sans-serif' >3</text>
<text x="1181.51" y="480.20" font-size="25" text-anchor="start" font-family='"Liberation Sans", sans-serif' >4</text>
<text x="1205.30" y="480.20" font-size="25" text-anchor="start" font-family='"Liberation Sans", sans-serif' >5</text>
<text x="1229.09" y="480.20" font-size="25" text-anchor="start" font-family='"Liberation Sans", sans-serif' >6</text>
<text x="1252.88" y="480.20" font-size="25" text-anchor="start" font-family='"Liberation Sans", sans-serif' >7</text>
<text x="1276.67" y="480.20" font-size="25" text-anchor="start" font-family='"Liberation Sans", sans-serif' >8</text>
<text x="1300.46" y="480.20" font-size="25" text-anchor="start" font-family='"Liberation Sans", sans-serif' >9</text>
<text x="1318.50" y="480.20" font-size="25" text-anchor="start" font-family='"Liberation Sans", sans-serif' > 0</text>
<path d="M763 0H583V1147Q518 1085 412.5 1023Q307 961 223 930V1104Q374 1175 487 1276Q600 1377 647 1472H763Z" transform="translate(1318.50,480.20) scale(0.01221,-0.01186)" fill="#000"/>
<g transform="rotate(-90)">
<text class="thin2" x="-446.41" y="1010.50" font-size="29" font-family='"Liberation Sans", sans-serif' textLength="154.28" lengthAdjust="spacingAndGlyphs" >Probability</text>
</g>
<rect x="1190.7" y="304.30" width="35" height="23" fill="#2f75b7"/>
<text class="n" x="1237.40" y="327.40" font-size="28" font-family='"Liberation Sans", sans-serif' textLength="50.32" lengthAdjust="spacingAndGlyphs" >Exp</text>
<rect x="1190.7" y="347.00" width="35.3" height="21" fill="#a6cee3"/>
<text class="n" x="1237.47" y="368.20" font-size="28" font-family='"Liberation Sans", sans-serif' textLength="87.59" lengthAdjust="spacingAndGlyphs" >Theory</text>
<g transform="translate(955,256.8) scale(1,1.0)">
<text x="0.00" y="0.00" font-size="36" text-anchor="start" font-family='"Liberation Sans", sans-serif' class="thin2">c</text>
</g>
<text class="n" x="1093.58" y="269.80" font-size="29" font-family='"Liberation Serif", serif' textLength="15.74" lengthAdjust="spacingAndGlyphs" font-style="italic">g</text>
<text x="1112.00" y="255.00" font-size="22" text-anchor="start" font-family='"Liberation Serif", serif' textLength="27.50" lengthAdjust="spacingAndGlyphs" >(2)</text>
<text class="n" x="1109.26" y="281.30" font-size="21" font-family='"Liberation Serif", serif' textLength="22.73" lengthAdjust="spacingAndGlyphs" >45</text>
<text x="1134.00" y="272.00" font-size="15" text-anchor="start" font-family='"Liberation Serif", serif' style="font-style:italic" >o</text>
<rect x="1152" y="259.40" width="17.6" height="1.6" fill="#000"/>
<rect x="1152" y="264.60" width="17.6" height="1.6" fill="#000"/>
<text x="1174.50" y="270.30" font-size="28.5" text-anchor="start" font-family='"Liberation Sans", sans-serif' textLength="152.80" lengthAdjust="spacingAndGlyphs" > .694±0.004</text>
<path d="M763 0H583V1147Q518 1085 412.5 1023Q307 961 223 930V1104Q374 1175 487 1276Q600 1377 647 1472H763Z" transform="translate(1174.50,270.30) scale(0.01343,-0.01352)" fill="#000"/>
<rect x="1083.30" y="576.85" width="19.8" height="115.05" fill="#2f75b7"/>
<rect x="1086.15" y="581.19" width="14.1" height="110.71" fill="#a6cee3"/>
<rect x="1106.96" y="582.95" width="19.8" height="108.95" fill="#2f75b7"/>
<rect x="1109.81" y="584.37" width="14.1" height="107.53" fill="#a6cee3"/>
<rect x="1130.62" y="614.64" width="19.8" height="77.26" fill="#2f75b7"/>
<rect x="1133.47" y="610.65" width="14.1" height="81.25" fill="#a6cee3"/>
<rect x="1154.28" y="642.60" width="19.8" height="49.30" fill="#2f75b7"/>
<rect x="1157.13" y="638.69" width="14.1" height="53.21" fill="#a6cee3"/>
<rect x="1177.94" y="661.15" width="19.8" height="30.75" fill="#2f75b7"/>
<rect x="1180.79" y="659.05" width="14.1" height="32.85" fill="#a6cee3"/>
<rect x="1201.60" y="673.43" width="19.8" height="18.47" fill="#2f75b7"/>
<rect x="1204.45" y="672.57" width="14.1" height="19.33" fill="#a6cee3"/>
<rect x="1225.26" y="680.18" width="19.8" height="11.72" fill="#2f75b7"/>
<rect x="1228.11" y="679.88" width="14.1" height="12.02" fill="#a6cee3"/>
<rect x="1248.92" y="685.03" width="19.8" height="6.87" fill="#2f75b7"/>
<rect x="1251.77" y="684.81" width="14.1" height="7.09" fill="#a6cee3"/>
<rect x="1272.58" y="688.29" width="19.8" height="3.61" fill="#2f75b7"/>
<rect x="1275.43" y="688.03" width="14.1" height="3.87" fill="#a6cee3"/>
<rect x="1296.24" y="690.18" width="19.8" height="1.72" fill="#2f75b7"/>
<rect x="1299.09" y="689.97" width="14.1" height="1.93" fill="#a6cee3"/>
<rect x="1319.90" y="691.26" width="19.8" height="0.64" fill="#2f75b7"/>
<rect x="1322.75" y="691.04" width="14.1" height="0.86" fill="#a6cee3"/>
<g stroke="#000" stroke-width="2.2" stroke-linecap="round"><line x1="1087.00" y1="575.13" x2="1099.40" y2="575.13"/><line x1="1087.00" y1="578.57" x2="1099.40" y2="578.57"/><line x1="1093.20" y1="575.13" x2="1093.20" y2="578.57"/></g>
<g stroke="#000" stroke-width="2.2" stroke-linecap="round"><line x1="1110.66" y1="582.35" x2="1123.06" y2="582.35"/><line x1="1110.66" y1="583.55" x2="1123.06" y2="583.55"/><line x1="1116.86" y1="582.35" x2="1116.86" y2="583.55"/></g>
<g stroke="#000" stroke-width="2.2" stroke-linecap="round"><line x1="1134.32" y1="614.04" x2="1146.72" y2="614.04"/><line x1="1134.32" y1="615.24" x2="1146.72" y2="615.24"/><line x1="1140.52" y1="614.04" x2="1140.52" y2="615.24"/></g>
<g stroke="#000" stroke-width="2.2" stroke-linecap="round"><line x1="1157.98" y1="642.00" x2="1170.38" y2="642.00"/><line x1="1157.98" y1="643.20" x2="1170.38" y2="643.20"/><line x1="1164.18" y1="642.00" x2="1164.18" y2="643.20"/></g>
<g stroke="#000" stroke-width="2.2" stroke-linecap="round"><line x1="1181.64" y1="660.55" x2="1194.04" y2="660.55"/><line x1="1181.64" y1="661.75" x2="1194.04" y2="661.75"/><line x1="1187.84" y1="660.55" x2="1187.84" y2="661.75"/></g>
<g stroke="#000" stroke-width="2.2" stroke-linecap="round"><line x1="1205.30" y1="672.83" x2="1217.70" y2="672.83"/><line x1="1205.30" y1="674.03" x2="1217.70" y2="674.03"/><line x1="1211.50" y1="672.83" x2="1211.50" y2="674.03"/></g>
<g stroke="#000" stroke-width="2.2" stroke-linecap="round"><line x1="1228.96" y1="679.58" x2="1241.36" y2="679.58"/><line x1="1228.96" y1="680.78" x2="1241.36" y2="680.78"/><line x1="1235.16" y1="679.58" x2="1235.16" y2="680.78"/></g>
<g stroke="#000" stroke-width="2.2" stroke-linecap="round"><line x1="1252.62" y1="684.43" x2="1265.02" y2="684.43"/><line x1="1252.62" y1="685.63" x2="1265.02" y2="685.63"/><line x1="1258.82" y1="684.43" x2="1258.82" y2="685.63"/></g>
<g stroke="#000" stroke-width="2.2" stroke-linecap="round"><line x1="1276.28" y1="687.69" x2="1288.68" y2="687.69"/><line x1="1276.28" y1="688.89" x2="1288.68" y2="688.89"/><line x1="1282.48" y1="687.69" x2="1282.48" y2="688.89"/></g>
<g stroke="#000" stroke-width="2.2" stroke-linecap="round"><line x1="1299.94" y1="689.58" x2="1312.34" y2="689.58"/><line x1="1299.94" y1="690.78" x2="1312.34" y2="690.78"/><line x1="1306.14" y1="689.58" x2="1306.14" y2="690.78"/></g>
<g stroke="#000" stroke-width="2.2" stroke-linecap="round"><line x1="1323.60" y1="690.66" x2="1336.00" y2="690.66"/><line x1="1323.60" y1="691.86" x2="1336.00" y2="691.86"/><line x1="1329.80" y1="690.66" x2="1329.80" y2="691.86"/></g>
<rect x="1081.0" y="537.3" width="260.60" height="154.60" stroke="#000" stroke-width="1.5" fill="none"/>
<path d="M1073.00,691.90H1081.00M1333.60,691.90H1341.60M1077.00,670.43H1081.00M1073.00,648.96H1081.00M1333.60,648.96H1341.60M1077.00,627.48H1081.00M1073.00,606.01H1081.00M1333.60,606.01H1341.60M1077.00,584.54H1081.00M1073.00,563.07H1081.00M1333.60,563.07H1341.60M1077.00,541.59H1081.00M1093.20,691.90V700.40M1093.20,537.30V545.30M1116.86,691.90V700.40M1116.86,537.30V545.30M1140.52,691.90V700.40M1140.52,537.30V545.30M1164.18,691.90V700.40M1164.18,537.30V545.30M1187.84,691.90V700.40M1187.84,537.30V545.30M1211.50,691.90V700.40M1211.50,537.30V545.30M1235.16,691.90V700.40M1235.16,537.30V545.30M1258.82,691.90V700.40M1258.82,537.30V545.30M1282.48,691.90V700.40M1282.48,537.30V545.30M1306.14,691.90V700.40M1306.14,537.30V545.30M1329.80,691.90V700.40M1329.80,537.30V545.30" stroke="#000" stroke-width="1.5" fill="none"/>
<text x="1052.90" y="699.80" font-size="25" text-anchor="start" font-family='"Liberation Sans", sans-serif' >0</text>
<text x="1032.05" y="656.86" font-size="25" text-anchor="start" font-family='"Liberation Sans", sans-serif' >0. </text>
<path d="M763 0H583V1147Q518 1085 412.5 1023Q307 961 223 930V1104Q374 1175 487 1276Q600 1377 647 1472H763Z" transform="translate(1052.90,656.86) scale(0.01221,-0.01186)" fill="#000"/>
<text x="1032.05" y="613.91" font-size="25" text-anchor="start" font-family='"Liberation Sans", sans-serif' >0.2</text>
<text x="1032.05" y="570.97" font-size="25" text-anchor="start" font-family='"Liberation Sans", sans-serif' >0.3</text>
<text x="1086.25" y="725.70" font-size="25" text-anchor="start" font-family='"Liberation Sans", sans-serif' >0</text>
<path d="M763 0H583V1147Q518 1085 412.5 1023Q307 961 223 930V1104Q374 1175 487 1276Q600 1377 647 1472H763Z" transform="translate(1109.91,725.70) scale(0.01221,-0.01186)" fill="#000"/>
<text x="1133.57" y="725.70" font-size="25" text-anchor="start" font-family='"Liberation Sans", sans-serif' >2</text>
<text x="1157.23" y="725.70" font-size="25" text-anchor="start" font-family='"Liberation Sans", sans-serif' >3</text>
<text x="1180.89" y="725.70" font-size="25" text-anchor="start" font-family='"Liberation Sans", sans-serif' >4</text>
<text x="1204.55" y="725.70" font-size="25" text-anchor="start" font-family='"Liberation Sans", sans-serif' >5</text>
<text x="1228.21" y="725.70" font-size="25" text-anchor="start" font-family='"Liberation Sans", sans-serif' >6</text>
<text x="1251.87" y="725.70" font-size="25" text-anchor="start" font-family='"Liberation Sans", sans-serif' >7</text>
<text x="1275.53" y="725.70" font-size="25" text-anchor="start" font-family='"Liberation Sans", sans-serif' >8</text>
<text x="1299.19" y="725.70" font-size="25" text-anchor="start" font-family='"Liberation Sans", sans-serif' >9</text>
<text x="1317.10" y="725.70" font-size="25" text-anchor="start" font-family='"Liberation Sans", sans-serif' > 0</text>
<path d="M763 0H583V1147Q518 1085 412.5 1023Q307 961 223 930V1104Q374 1175 487 1276Q600 1377 647 1472H763Z" transform="translate(1317.10,725.70) scale(0.01221,-0.01186)" fill="#000"/>
<g transform="rotate(-90)">
<text class="thin2" x="-690.83" y="1010.50" font-size="29" font-family='"Liberation Sans", sans-serif' textLength="149.59" lengthAdjust="spacingAndGlyphs" >Probability</text>
</g>
<rect x="1190.7" y="557.50" width="35" height="23" fill="#2f75b7"/>
<text class="n" x="1237.40" y="580.60" font-size="28" font-family='"Liberation Sans", sans-serif' textLength="50.32" lengthAdjust="spacingAndGlyphs" >Exp</text>
<rect x="1190.7" y="600.10" width="35.3" height="21" fill="#a6cee3"/>
<text class="n" x="1237.47" y="621.30" font-size="28" font-family='"Liberation Sans", sans-serif' textLength="87.59" lengthAdjust="spacingAndGlyphs" >Theory</text>
<g transform="translate(955,501.3) scale(1,1.07)">
<text x="0.00" y="0.00" font-size="36" text-anchor="start" font-family='"Liberation Sans", sans-serif' class="thin2">d</text>
</g>
<text class="n" x="1093.58" y="523.30" font-size="29" font-family='"Liberation Serif", serif' textLength="15.74" lengthAdjust="spacingAndGlyphs" font-style="italic">g</text>
<text x="1112.00" y="508.50" font-size="22" text-anchor="start" font-family='"Liberation Serif", serif' textLength="27.50" lengthAdjust="spacingAndGlyphs" >(2)</text>
<text class="n" x="1108.96" y="532.80" font-size="21" font-family='"Liberation Serif", serif' textLength="23.02" lengthAdjust="spacingAndGlyphs" >90</text>
<text x="1134.00" y="523.50" font-size="15" text-anchor="start" font-family='"Liberation Serif", serif' style="font-style:italic" >o</text>
<rect x="1152" y="512.70" width="17.6" height="1.6" fill="#000"/>
<rect x="1152" y="518.10" width="17.6" height="1.6" fill="#000"/>
<text x="1173.00" y="523.80" font-size="28.5" text-anchor="start" font-family='"Liberation Sans", sans-serif' textLength="154.30" lengthAdjust="spacingAndGlyphs" > .583±0.003</text>
<path d="M763 0H583V1147Q518 1085 412.5 1023Q307 961 223 930V1104Q374 1175 487 1276Q600 1377 647 1472H763Z" transform="translate(1173.00,523.80) scale(0.01357,-0.01352)" fill="#000"/>
<text class="thin" x="1090.98" y="764.50" font-size="32.5" font-family='"Liberation Sans", sans-serif' textLength="101.40" lengthAdjust="spacingAndGlyphs" >Photon</text>
<text class="thin" x="1202.81" y="764.50" font-size="32.5" font-family='"Liberation Sans", sans-serif' textLength="116.53" lengthAdjust="spacingAndGlyphs" >Number</text>
<circle cx="92" cy="357.3" r="1.1" fill="#333"/>
<ellipse cx="1031.6" cy="323.8" rx="0.7" ry="1.8" fill="#333"/>
</svg>
</body></html>
